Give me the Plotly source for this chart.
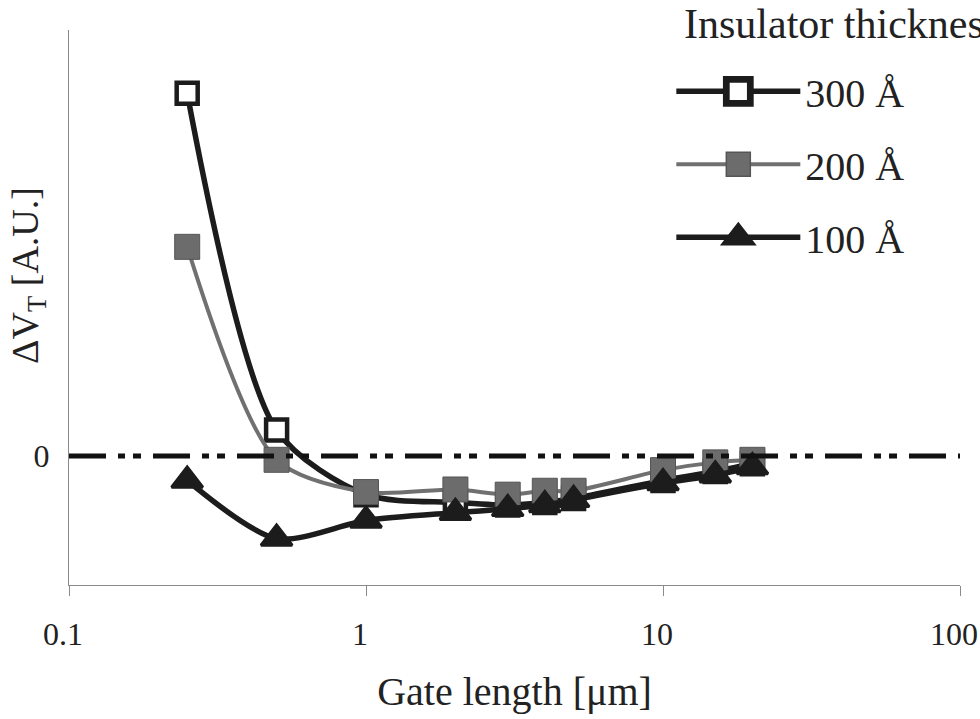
import plotly.graph_objects as go

gate_length = [0.25, 0.5, 1, 2, 3, 4, 5, 10, 15, 20]
dvt_300 = [2.81, 0.20, -0.30, -0.36, -0.38, -0.36, -0.33, -0.19, -0.12, -0.06]
dvt_200 = [1.62, -0.03, -0.28, -0.26, -0.30, -0.27, -0.27, -0.11, -0.05, -0.03]
dvt_100 = [-0.19, -0.64, -0.50, -0.44, -0.41, -0.38, -0.34, -0.21, -0.15, -0.085]
series_names = ["300 Å", "200 Å", "100 Å"]
legend_title = "Insulator thickness"
x_tick_vals = [0.1, 1, 10, 100]
x_tick_text = ["0.1", "1", "10", "100"]

FONT = "Liberation Serif, Times New Roman, serif"
TXT = "#222222"
BLACK = "#1c1c1c"
GRAY = "#707070"

fig = go.Figure()

fig.add_trace(go.Scatter(
    x=gate_length, y=dvt_300, name=series_names[0], mode="lines+markers",
    line=dict(color=BLACK, width=5.5, shape="spline", smoothing=0.8),
    marker=dict(symbol="square", size=21, color="white",
                line=dict(color=BLACK, width=4.5)),
    legendgroup="a",
))
fig.add_trace(go.Scatter(
    x=gate_length, y=dvt_200, name=series_names[1], mode="lines+markers",
    line=dict(color=GRAY, width=4, shape="spline", smoothing=0.8),
    marker=dict(symbol="square", size=25, color="#6c6c6c",
                line=dict(color="#555555", width=1)),
    legendgroup="b",
))
fig.add_trace(go.Scatter(
    x=gate_length, y=dvt_100, name=series_names[2], mode="lines+markers",
    line=dict(color=BLACK, width=5.5, shape="spline", smoothing=0.8),
    marker=dict(symbol="triangle-up", size=27, color=BLACK,
                line=dict(color=BLACK, width=3)),
    legendgroup="c",
))

fig.add_shape(type="line", xref="paper", x0=0, x1=1, yref="y", y0=0, y1=0,
              line=dict(color="#111111", width=5, dash="37px,12px,7px,8px,8px,12px"),
              layer="above")

fig.update_xaxes(
    type="log", range=[-1, 2], tickvals=x_tick_vals, ticktext=x_tick_text,
    showgrid=False, zeroline=False, showline=True, linecolor="#8a8a8a", linewidth=1.2,
    ticks="outside", ticklen=10, tickcolor="#8a8a8a", tickwidth=1.2,
    tickfont=dict(family=FONT, size=32, color=TXT), ticklabelstandoff=10,
    ticklabelshift=-6, ticklabeloverflow="allow",
    title=dict(text="Gate length [μm]", font=dict(family=FONT, size=40, color=TXT), standoff=26),
)
fig.update_yaxes(
    range=[-1, 3.30], tickvals=[0], ticktext=["0"],
    showgrid=False, zeroline=False, showline=True, linecolor="#8a8a8a", linewidth=1.2,
    ticks="", tickfont=dict(family=FONT, size=32, color=TXT), ticklabelstandoff=12,
)

fig.add_annotation(
    text="ΔV<sub>T</sub> [A.U.]", xref="paper", yref="paper", x=-0.046, y=0.557,
    textangle=-90, showarrow=False, xanchor="center", yanchor="middle",
    font=dict(family=FONT, size=38, color=TXT),
)
fig.add_annotation(
    text=legend_title, xref="paper", yref="paper", x=0.688, y=1.01,
    showarrow=False, xanchor="left", yanchor="middle",
    font=dict(family=FONT, size=42, color=TXT),
)

fig.update_layout(
    width=980, height=719,
    margin=dict(l=69, r=20, t=30, b=134, autoexpand=False),
    paper_bgcolor="white", plot_bgcolor="white",
    showlegend=True,
    legend=dict(
        x=0.676, y=0.948, xanchor="left", yanchor="top",
        font=dict(family=FONT, size=40, color=TXT),
        itemwidth=124, tracegroupgap=18, bgcolor="rgba(0,0,0,0)",
        itemsizing="trace",
    ),
)

post = """
var gd = document.getElementById('{plot_id}');
function growLegendMarkers(){
  gd.querySelectorAll('.legend .scatterpts').forEach(function(p){
    var t = p.getAttribute('transform') || '';
    if (t.indexOf('scale') < 0) p.setAttribute('transform', t + ' scale(1.5)');
  });
}
growLegendMarkers();
gd.on('plotly_afterplot', growLegendMarkers);
"""

fig.write_html("out.html", post_script=post)
